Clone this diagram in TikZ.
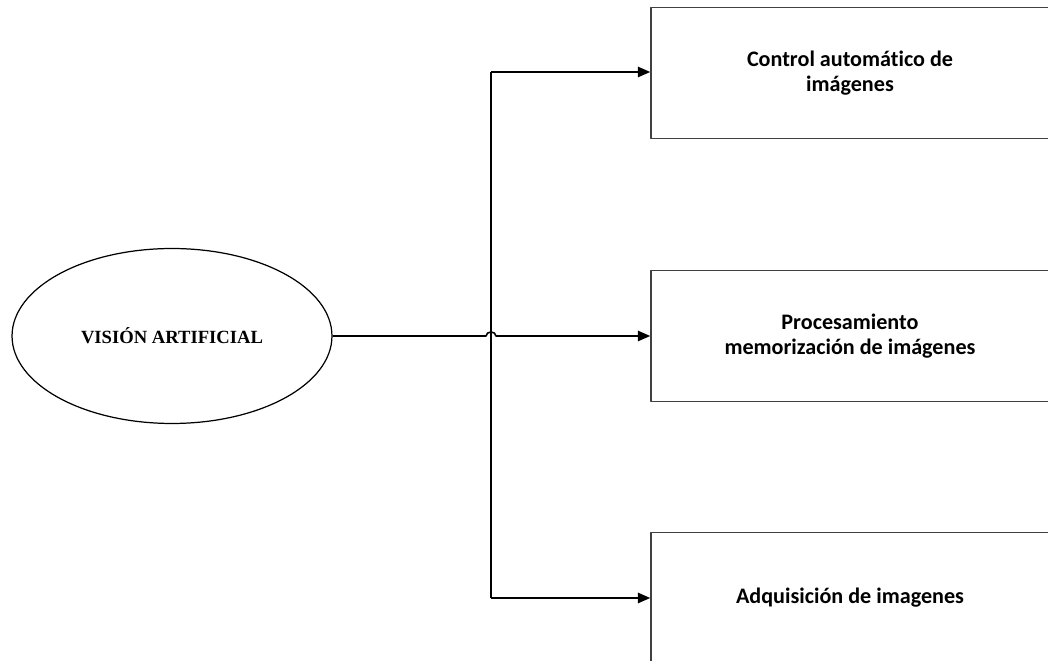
\documentclass[tikz,border=0pt]{standalone}
\usepackage{fontspec}
\setmainfont[Ligatures=NoCommon]{Carlito}
\newfontfamily\serifa{Liberation Serif}
\usetikzlibrary{arrows.meta,shapes.geometric}
\begin{document}
\begin{tikzpicture}[x=0.02cm,y=-0.02cm,line join=round,
	flecha/.style={line width=0.9pt,-{Triangle[length=0.25cm,width=0.21cm]}},
	linea/.style={line width=0.9pt},
	caja/.style={draw=black!75,line width=0.9pt,minimum width=7.96cm,minimum height=2.62cm,align=center,font=\fontsize{12.6}{14.2}\selectfont\bfseries},
	elipse/.style={draw,ellipse,line width=0.7pt,minimum width=6.4cm,minimum height=3.5cm,font=\serifa\fontsize{10.6}{12}\selectfont\bfseries}]
	\useasboundingbox (0,0) rectangle (1048,661);
	% Elipse principal
	\node[elipse] (vision) at (172,336) {VISIÓN ARTIFICIAL};
	% Cajas
	\node[caja] (control) at (850,73) {Control automático de\\imágenes};
	\node[caja] (proc) at (850,336) {Procesamiento\\memorización de imágenes};
	\node[caja] (adq) at (850,598) {Adquisición de imagenes};
	% Bus vertical
	\coordinate (arriba) at (491,72);
	\coordinate (abajo) at (491,598);
	\coordinate (salto) at (486,336);
	\draw[linea] (arriba) -- (abajo);
	\draw[flecha] (arriba) -- (control.west |- arriba);
	\draw[flecha] (abajo) -- (adq.west);
	% Linea central con salto
	\draw[flecha] (vision.east) -- (salto) arc[start angle=180,end angle=0,x radius=0.1cm,y radius=0.08cm] -- (proc.west);
\end{tikzpicture}
\end{document}
